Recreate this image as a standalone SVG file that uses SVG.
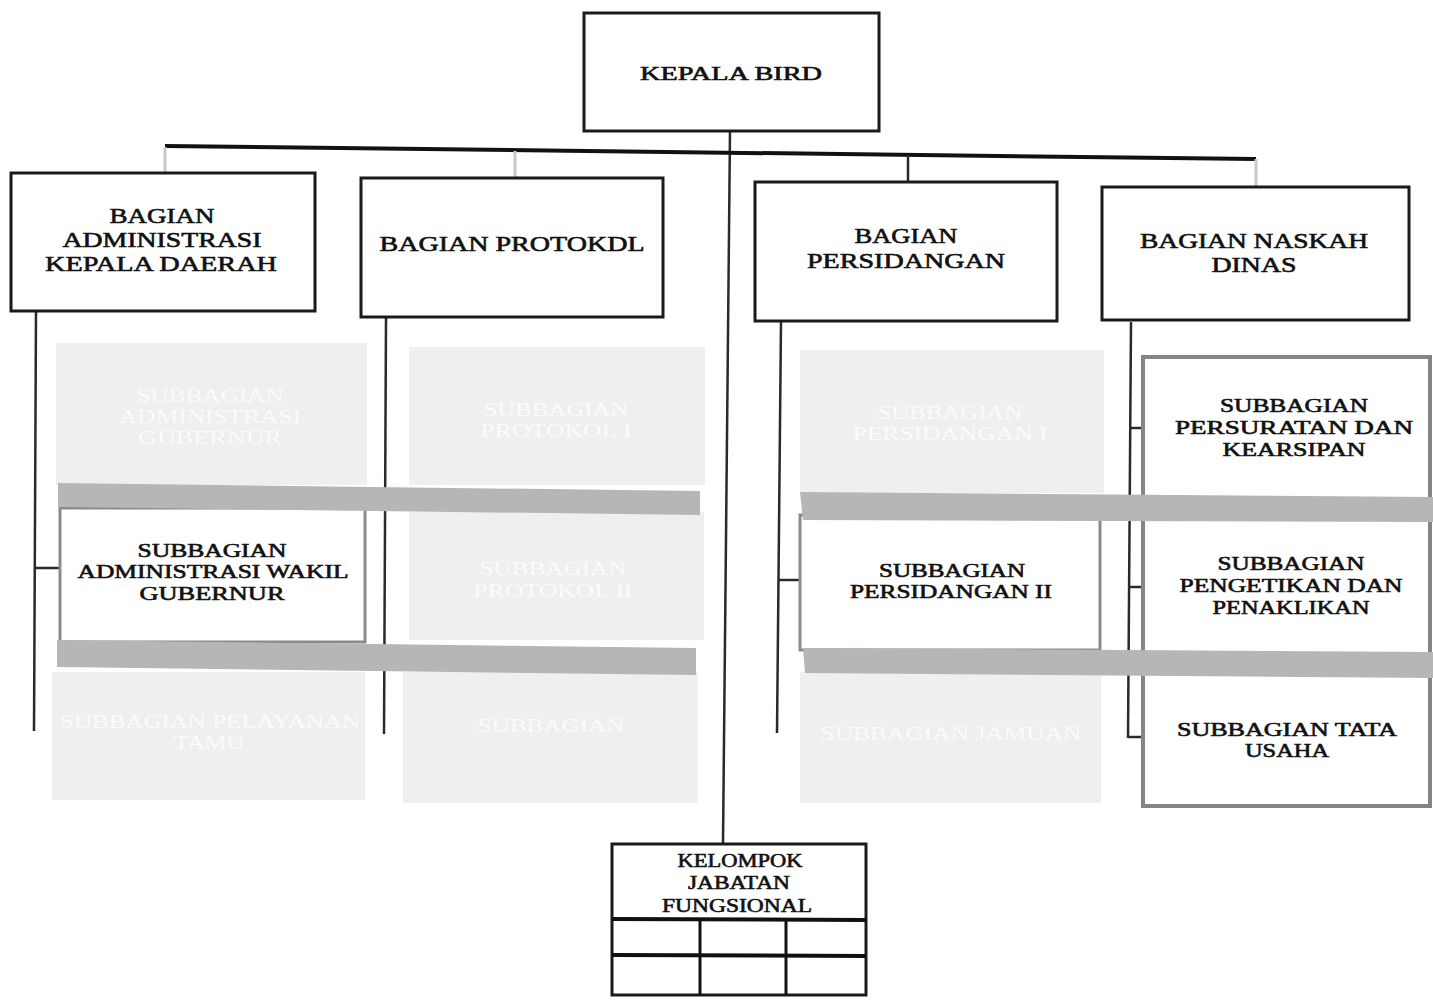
<svg xmlns="http://www.w3.org/2000/svg" width="1433" height="1003" viewBox="0 0 1433 1003">
<style>
.t{font-family:"Liberation Serif","DejaVu Serif",serif;font-size:19px;fill:#111;stroke:#111;stroke-width:0.6;text-anchor:middle}
.f{font-family:"Liberation Serif","DejaVu Serif",serif;font-size:19px;fill:#fbfbfb;text-anchor:middle}
.b{font-size:21.5px}
.box{fill:#fff;stroke:#1a1a1a;stroke-width:3}
.fade{fill:#efefef;stroke:none}
.band{fill:#b5b7b4;stroke:none}
.ln{stroke:#2a2a2a;stroke-width:2.5;fill:none}
.lf{stroke:#c8c8c8;stroke-width:3;fill:none}
</style>
<rect width="1433" height="1003" fill="#fff"/>

<g id="connectors">
  <polyline class="ln" points="730,131 723,843"/>
  <polyline points="165,146 1256,159" stroke="#111" stroke-width="4" fill="none"/>
  <line class="lf" x1="165" y1="147" x2="165" y2="173"/>
  <line class="lf" x1="515" y1="151" x2="515" y2="177"/>
  <line class="ln" x1="908" y1="155" x2="908" y2="181"/>
  <line class="lf" x1="1256" y1="159" x2="1256" y2="186"/>
  <line class="ln" x1="36" y1="311" x2="34" y2="731"/>
  <line class="ln" x1="35" y1="568" x2="60" y2="568"/>
  <line class="ln" x1="386" y1="318" x2="384" y2="734"/>
  <line class="ln" x1="781" y1="322" x2="777" y2="733"/>
  <line class="ln" x1="779" y1="580" x2="800" y2="580"/>
  <line class="ln" x1="1131" y1="322" x2="1128" y2="738"/>
  <line class="ln" x1="1130" y1="428" x2="1145" y2="428"/>
  <line class="ln" x1="1129" y1="587" x2="1145" y2="587"/>
  <line class="ln" x1="1128" y1="737" x2="1145" y2="737"/>
</g>

<g id="kepala-bird">
  <rect class="box" x="584" y="13" width="295" height="118"/>
  <text class="t" x="731" y="80" font-size="28" textLength="182" lengthAdjust="spacingAndGlyphs">KEPALA BIRD</text>
</g>

<g id="bagian-administrasi">
  <rect class="box" x="11" y="173" width="304" height="138"/>
  <text class="t b" x="162" y="223" textLength="105" lengthAdjust="spacingAndGlyphs">BAGIAN</text>
  <text class="t b" x="162" y="247" textLength="199" lengthAdjust="spacingAndGlyphs">ADMINISTRASI</text>
  <text class="t b" x="161" y="271" textLength="232" lengthAdjust="spacingAndGlyphs">KEPALA DAERAH</text>
</g>

<g id="bagian-protokol">
  <rect class="box" x="361" y="178" width="302" height="139"/>
  <text class="t b" x="512" y="251" textLength="265" lengthAdjust="spacingAndGlyphs">BAGIAN PROTOKDL</text>
</g>

<g id="bagian-persidangan">
  <rect class="box" x="755" y="182" width="302" height="139"/>
  <text class="t b" x="906" y="243" textLength="103" lengthAdjust="spacingAndGlyphs">BAGIAN</text>
  <text class="t b" x="906" y="268" textLength="198" lengthAdjust="spacingAndGlyphs">PERSIDANGAN</text>
</g>

<g id="bagian-naskah">
  <rect class="box" x="1102" y="187" width="307" height="133"/>
  <text class="t b" x="1254" y="248" textLength="228" lengthAdjust="spacingAndGlyphs">BAGIAN NASKAH</text>
  <text class="t b" x="1254" y="272" textLength="85" lengthAdjust="spacingAndGlyphs">DINAS</text>
</g>

<g id="sub-admin-gubernur">
  <rect class="fade" x="56" y="343" width="311" height="142"/>
  <text class="f" x="210" y="402" textLength="147" lengthAdjust="spacingAndGlyphs">SUBBAGIAN</text>
  <text class="f" x="210" y="423" textLength="182" lengthAdjust="spacingAndGlyphs">ADMINISTRASI</text>
  <text class="f" x="210" y="444" textLength="144" lengthAdjust="spacingAndGlyphs">GUBERNUR</text>
</g>
<g id="sub-protokol-1">
  <rect class="fade" x="409" y="347" width="296" height="138"/>
  <text class="f" x="556" y="416" textLength="145" lengthAdjust="spacingAndGlyphs">SUBBAGIAN</text>
  <text class="f" x="556" y="437" textLength="151" lengthAdjust="spacingAndGlyphs">PROTOKOL I</text>
</g>
<g id="sub-protokol-2">
  <rect class="fade" x="409" y="512" width="295" height="128"/>
  <text class="f" x="553" y="575" textLength="147" lengthAdjust="spacingAndGlyphs">SUBBAGIAN</text>
  <text class="f" x="553" y="597" textLength="159" lengthAdjust="spacingAndGlyphs">PROTOKOL II</text>
</g>
<g id="sub-pelayanan-tamu">
  <rect class="fade" x="52" y="672" width="313" height="128"/>
  <text class="f" x="210" y="728" textLength="300" lengthAdjust="spacingAndGlyphs">SUBBAGIAN PELAYANAN</text>
  <text class="f" x="209" y="749" textLength="70" lengthAdjust="spacingAndGlyphs">TAMU</text>
</g>
<g id="sub-protokol-3">
  <rect class="fade" x="403" y="672" width="295" height="131"/>
  <text class="f" x="551" y="732" textLength="147" lengthAdjust="spacingAndGlyphs">SUBBAGIAN</text>
</g>
<g id="sub-admin-wakil">
  <rect x="60" y="508" width="305" height="134" fill="#fff" stroke="#8a8a8a" stroke-width="3"/>
  <text class="t" x="212" y="557" textLength="149" lengthAdjust="spacingAndGlyphs">SUBBAGIAN</text>
  <text class="t" x="213" y="578" textLength="271" lengthAdjust="spacingAndGlyphs">ADMINISTRASI WAKIL</text>
  <text class="t" x="212" y="600" textLength="145" lengthAdjust="spacingAndGlyphs">GUBERNUR</text>
</g>
<g id="bands-left">
  <polygon class="band" points="58,483 700,491 700,515 58,507"/>
  <polygon class="band" points="57,640 696,648 696,675 57,667"/>
</g>

<g id="sub-persidangan-1">
  <rect class="fade" x="800" y="350" width="304" height="143"/>
  <text class="f" x="950" y="419" textLength="145" lengthAdjust="spacingAndGlyphs">SUBBAGIAN</text>
  <text class="f" x="950" y="440" textLength="195" lengthAdjust="spacingAndGlyphs">PERSIDANGAN I</text>
</g>
<g id="sub-persidangan-2">
  <rect x="800" y="515" width="300" height="135" fill="#fff" stroke="#8a8a8a" stroke-width="3"/>
  <text class="t" x="952" y="577" textLength="146" lengthAdjust="spacingAndGlyphs">SUBBAGIAN</text>
  <text class="t" x="951" y="598" textLength="202" lengthAdjust="spacingAndGlyphs">PERSIDANGAN II</text>
</g>
<g id="sub-jamuan">
  <rect class="fade" x="800" y="672" width="301" height="131"/>
  <text class="f" x="951" y="740" textLength="261" lengthAdjust="spacingAndGlyphs">SUBBAGIAN JAMUAN</text>
</g>

<g id="naskah-subs">
  <rect x="1143" y="357" width="287" height="449" fill="#fff" stroke="#858585" stroke-width="4"/>
</g>
<g id="sub-persuratan">
  <text class="t" x="1294" y="412" textLength="148" lengthAdjust="spacingAndGlyphs">SUBBAGIAN</text>
  <text class="t" x="1294" y="434" textLength="238" lengthAdjust="spacingAndGlyphs">PERSURATAN  DAN</text>
  <text class="t" x="1294" y="456" textLength="143" lengthAdjust="spacingAndGlyphs">KEARSIPAN</text>
</g>
<g id="sub-pengetikan">
  <text class="t" x="1291" y="570" textLength="147" lengthAdjust="spacingAndGlyphs">SUBBAGIAN</text>
  <text class="t" x="1291" y="592" textLength="223" lengthAdjust="spacingAndGlyphs">PENGETIKAN DAN</text>
  <text class="t" x="1291" y="614" textLength="157" lengthAdjust="spacingAndGlyphs">PENAKLIKAN</text>
</g>
<g id="sub-tata-usaha">
  <text class="t" x="1287" y="736" textLength="220" lengthAdjust="spacingAndGlyphs">SUBBAGIAN TATA</text>
  <text class="t" x="1287" y="757" textLength="84" lengthAdjust="spacingAndGlyphs">USAHA</text>
</g>
<g id="bands-right">
  <polygon class="band" points="800,492 1433,497 1433,522 803,520"/>
  <polygon class="band" points="803,648 1433,652 1433,678 805,673"/>
</g>

<g id="kelompok-jabatan">
  <rect class="box" x="612" y="844" width="254" height="151"/>
  <text class="t" x="740" y="867" font-size="19.5" textLength="125" lengthAdjust="spacingAndGlyphs">KELOMPOK</text>
  <text class="t" x="739" y="889" font-size="19.5" textLength="102" lengthAdjust="spacingAndGlyphs">JABATAN</text>
  <text class="t" x="737" y="912" font-size="19.5" textLength="150" lengthAdjust="spacingAndGlyphs">FUNGSIONAL</text>
  <line x1="612" y1="919" x2="866" y2="920" stroke="#111" stroke-width="4"/>
  <line x1="612" y1="955" x2="866" y2="956" stroke="#111" stroke-width="4"/>
  <line x1="700" y1="920" x2="700" y2="995" stroke="#111" stroke-width="3"/>
  <line x1="786" y1="920" x2="786" y2="995" stroke="#111" stroke-width="3"/>
</g>
</svg>
